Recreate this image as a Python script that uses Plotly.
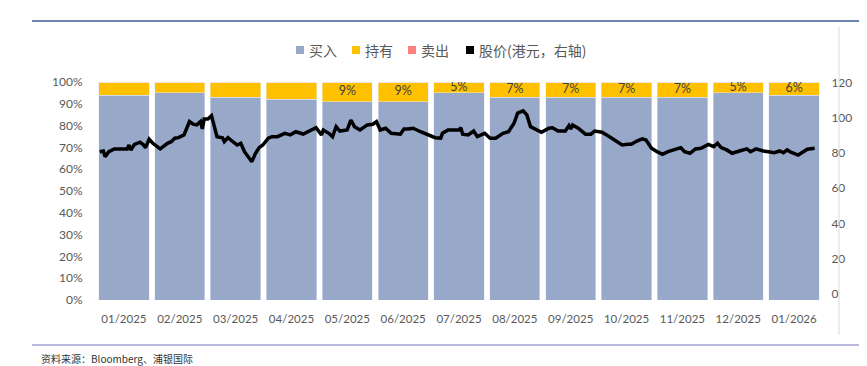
import plotly.graph_objects as go
import pandas as pd

# ---------------- data ----------------
months = ["01/2025", "02/2025", "03/2025", "04/2025", "05/2025", "06/2025", "07/2025",
          "08/2025", "09/2025", "10/2025", "11/2025", "12/2025", "01/2026"]
buy_pct = [94, 95, 93, 92, 91, 91, 95, 93, 93, 93, 93, 95, 94]
hold_pct = [6, 5, 7, 8, 9, 9, 5, 7, 7, 7, 7, 5, 6]
sell_pct = [0, 0, 0, 0, 0, 0, 0, 0, 0, 0, 0, 0, 0]
hold_labels = ["", "", "", "", "9%", "9%", "5%", "7%", "7%", "7%", "7%", "5%", "6%"]

series_names = ["买入", "持有", "卖出", "股价(港元，右轴)"]

price_start = "2025-01-01"
price_day = [2, 4, 5, 7, 10, 17, 18, 19, 21, 24, 26, 27, 29, 31, 35, 39, 41, 43, 45, 48,
             51, 53, 55, 57, 58, 59, 61, 63, 66, 69, 70, 72, 75, 77, 79, 81, 85, 87, 89, 91,
             94, 96, 99,
             100, 103, 106, 109, 113, 117, 120, 123, 124, 127, 129, 131, 133, 137, 139, 141,
             144, 148, 151, 153, 155, 158, 161, 166, 168, 170, 173, 177, 181, 185, 188, 189,
             192, 197,
             198, 199, 200, 203, 206, 208, 210, 212, 215, 218, 222, 225, 228, 230, 233, 235,
             237, 239, 243, 247, 249, 252, 256, 258, 259, 260, 263, 267, 270, 272, 276, 279,
             283, 287, 290,
             292, 295, 298, 300, 303, 306, 309, 312, 315, 319, 321, 324, 327, 330, 334, 337,
             339, 341, 344, 347, 351, 355, 357, 360, 364, 367, 370, 373, 375, 377, 379, 383,
             386, 388, 392]
price_hkd = [80.9, 81.3, 78.1, 80.9, 82.5, 82.5, 84.7, 81.9, 85.1, 86.3, 84.7, 83.2, 88.0, 85.7,
             82.5, 85.7, 86.6, 88.6, 88.9, 90.5, 98.1, 96.6, 96.2, 98.1, 93.9, 99.6, 99.6, 101.5,
             89.5, 88.9, 86.6, 88.9, 86.3, 84.7, 85.7, 80.9, 75.2, 80.0, 83.2, 84.7, 88.6, 89.5,
             89.5,
             90.1, 91.4, 90.5, 92.3, 91.0, 93.3, 94.6, 90.5, 93.3, 91.4, 89.5, 95.2, 92.7, 93.3,
             99.0, 95.2, 93.3, 96.2, 96.6, 98.1, 93.3, 94.3, 91.4, 90.9, 93.9, 93.9, 94.3, 92.3,
             90.5, 88.9, 88.6, 91.4, 93.3, 93.3,
             93.3, 94.6, 90.9, 90.5, 92.7, 89.5, 90.5, 91.4, 88.6, 88.6, 91.4, 92.3, 97.1, 102.9,
             104.2, 101.9, 95.2, 94.3, 92.0, 94.3, 94.6, 92.7, 92.7, 95.8, 93.9, 96.2, 94.3, 90.9,
             90.9, 92.7, 92.0, 90.1, 87.6, 84.7, 85.1,
             85.1, 87.0, 88.2, 87.6, 82.9, 80.9, 79.4, 80.9, 81.9, 83.2, 80.9, 80.0, 82.5, 82.9,
             85.1, 83.8, 85.7, 83.2, 81.9, 80.0, 81.3, 82.5, 80.9, 82.5, 81.3, 80.6, 80.3, 81.3,
             80.3, 81.9, 80.6, 79.0, 81.3, 82.3, 82.9]

source_text = "资料来源：Bloomberg、浦银国际"

# ---------------- styles ----------------
C_BUY = "#97A8C9"
C_HOLD = "#FFC000"
C_SELL = "#FF8080"
C_PRICE = "#000000"
C_TXT = "#595959"
FONT = "Lato, 'Noto Sans CJK SC', sans-serif"
CJK = "'Noto Sans CJK SC', sans-serif"

idx = list(range(len(months)))
price_dates = pd.Timestamp(price_start) + pd.to_timedelta(price_day, unit="D")

fig = go.Figure()
fig.add_trace(go.Bar(x=idx, y=buy_pct, name=series_names[0], marker_color=C_BUY, width=0.9,
                     showlegend=False, hoverinfo="skip"))
fig.add_trace(go.Bar(x=idx, y=hold_pct, name=series_names[1], marker_color=C_HOLD, width=0.9,
                     showlegend=False, hoverinfo="skip"))
fig.add_trace(go.Bar(x=idx, y=sell_pct, name=series_names[2], marker_color=C_SELL, width=0.9,
                     showlegend=False, hoverinfo="skip"))
# hold labels centred in the hold segment
fig.add_trace(go.Scatter(x=idx, y=[b + h / 2 for b, h in zip(buy_pct, hold_pct)],
                         text=hold_labels, mode="text", showlegend=False,
                         textfont=dict(family=FONT, size=12.5, color="#404040"),
                         textposition="middle center", hoverinfo="skip"))
# price line
fig.add_trace(go.Scatter(x=price_dates, y=price_hkd, name=series_names[3], mode="lines",
                         xaxis="x2", yaxis="y2", line=dict(color=C_PRICE, width=3.5),
                         showlegend=False))

# ---- manual legend (squares + text), positions in paper fractions ----
# (reference pixel coordinates -> fractions of the plot area, plot spans x 96..822, y 82..300)
def px_x(X):
    return (X - 96) / 726.0


def px_y(Y):
    return (300 - Y) / 218.0


legend_items = list(zip(series_names, [C_BUY, C_HOLD, C_SELL, C_PRICE], [296, 352, 408, 466]))
shapes = []
annotations = []
for name, col, sx in legend_items:
    shapes.append(dict(type="rect", xref="paper", yref="paper", x0=px_x(sx), x1=px_x(sx + 8),
                       y0=px_y(54), y1=px_y(46), fillcolor=col, line=dict(width=0)))
    annotations.append(dict(text=name, xref="paper", yref="paper", x=px_x(sx + 11), y=px_y(50),
                            xanchor="left", yanchor="middle", showarrow=False,
                            font=dict(family=CJK, size=14, color=C_TXT)))

shapes += [
    dict(type="line", xref="paper", yref="paper", x0=px_x(32), x1=px_x(870), y0=px_y(21),
         y1=px_y(21), line=dict(color="#3D5A98", width=1.5)),
    dict(type="line", xref="paper", yref="paper", x0=px_x(32), x1=px_x(870), y0=px_y(345),
         y1=px_y(345), line=dict(color="#B8B8DC", width=2)),
    dict(type="line", xref="paper", yref="paper", x0=px_x(839), x1=px_x(839), y0=px_y(335),
         y1=px_y(27), line=dict(color="#D9D9D9", width=1)),
]
annotations.append(dict(text=source_text, xref="paper", yref="paper", x=px_x(39), y=px_y(358),
                        xanchor="left", yanchor="middle", showarrow=False,
                        font=dict(family=CJK, size=10, color="#333333")))

# page body has an 8px margin, so the figure is 8px smaller and the plot area 8px up/left
fig.update_layout(
    width=859, height=358,
    margin=dict(l=88, r=45, t=74, b=66, autoexpand=False),
    paper_bgcolor="white", plot_bgcolor="white",
    barmode="stack",
    showlegend=False,
    font=dict(family=FONT, color=C_TXT, size=12),
    xaxis=dict(range=[-0.5, 12.5], tickvals=idx, ticktext=months, showgrid=False,
               zeroline=False, showline=False, ticks="outside", ticklen=8, automargin=False,
               tickcolor="rgba(0,0,0,0)", tickfont=dict(size=11.5, color=C_TXT, family=FONT)),
    xaxis2=dict(type="date", range=["2025-01-01", "2026-02-01"], overlaying="x",
                visible=False, showgrid=False),
    yaxis=dict(range=[0, 100], dtick=10, ticksuffix="%", showgrid=False, zeroline=False,
               ticks="outside", ticklen=10, tickcolor="rgba(0,0,0,0)", automargin=False,
               tickfont=dict(size=12, color=C_TXT, family=FONT)),
    yaxis2=dict(range=[-3.8, 120.7], tickvals=[0, 20, 40, 60, 80, 100, 120], overlaying="y",
                side="right", showgrid=False, zeroline=False, ticks="outside", ticklen=6,
                automargin=False, tickcolor="rgba(0,0,0,0)",
                tickfont=dict(size=12, color=C_TXT, family=FONT)),
    shapes=shapes,
    annotations=annotations,
)

fig.write_html("out.html")
